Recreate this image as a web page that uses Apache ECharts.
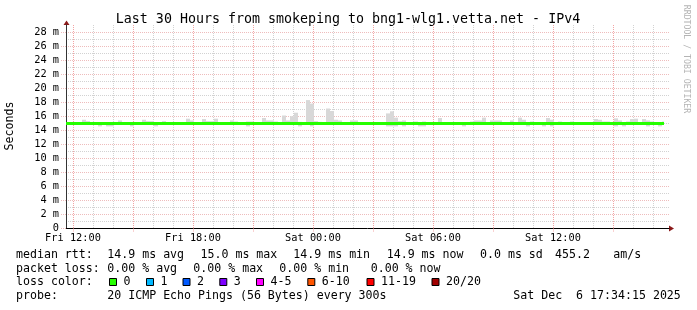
<!DOCTYPE html>
<html><head><meta charset="utf-8">
<script src="https://cdn.jsdelivr.net/npm/echarts@6/dist/echarts.min.js"></script>
<style>html,body{margin:0;padding:0;background:#fff}#c{width:697px;height:310px}</style>
</head><body><div id="c"></div>
<script>
// ---------------- data ----------------
const titleText = 'Last 30 Hours from smokeping to bng1-wlg1.vetta.net - IPv4';
const yAxisName = 'Seconds';
const watermark = 'RRDTOOL / TOBI OETIKER';
const startHour = 11.65;      // Fri 11:39 (hours since Fri 00:00)
const endHour = 41.8;         // right end of axis
const dataEndHour = 41.55;    // last sample (Sat 17:34)
const binHours = 0.2;         // 12-minute smoke bins
const smokeMax = [
15.1,15.05,15.05,15.05,15.5,15.3,15.05,15.05,15.1,15.05,
15.05,15.05,15.1,15.4,15.1,15.05,15.05,15.05,15.1,15.5,
15.3,15.3,15.05,15.05,15.3,15.1,15.05,15.05,15.05,15.1,
15.65,15.4,15.1,15.05,15.6,15.3,15.3,15.65,15.1,15.05,
15.1,15.4,15.25,15.05,15.05,15.25,15.25,15.05,15.1,15.75,
15.4,15.4,15.25,15.1,16.1,15.4,16.0,16.5,15.2,15.1,
18.3,17.8,15.3,15.2,15.05,17.1,16.75,15.5,15.4,15.1,
15.05,15.4,15.4,15.1,15.05,15.1,15.05,15.05,15.1,15.05,
16.4,16.7,15.8,15.3,15.4,15.05,15.05,15.25,15.05,15.25,
15.1,15.05,15.05,15.75,15.1,15.05,15.05,15.1,15.05,15.05,
15.1,15.25,15.4,15.4,15.8,15.1,15.4,15.4,15.4,15.05,
15.05,15.4,15.1,15.8,15.5,15.05,15.25,15.05,15.05,15.1,
15.75,15.5,15.1,15.25,15.05,15.05,15.25,15.05,15.05,15.1,
15.05,15.05,15.6,15.5,15.25,15.25,15.05,15.7,15.4,15.1,
15.25,15.6,15.65,15.1,15.6,15.4,15.25,15.05,15.1,15.25
];
const smokeMin = [
14.8,14.8,14.8,14.8,14.8,14.8,14.8,14.8,14.55,14.8,
14.55,14.55,14.8,14.8,14.8,14.8,14.55,14.8,14.8,14.8,
14.8,14.8,14.55,14.8,14.8,14.8,14.8,14.8,14.8,14.8,
14.8,14.8,14.8,14.8,14.8,14.8,14.8,14.8,14.8,14.8,
14.8,14.8,14.8,14.8,14.8,14.55,14.8,14.8,14.8,14.8,
14.8,14.8,14.8,14.8,14.8,14.8,14.8,14.8,14.55,14.8,
14.8,14.55,14.8,14.8,14.8,14.8,14.8,14.8,14.8,14.8,
14.8,14.8,14.8,14.8,14.8,14.8,14.8,14.8,14.8,14.8,
14.55,14.55,14.55,14.8,14.55,14.8,14.8,14.8,14.55,14.55,
14.8,14.8,14.8,14.8,14.8,14.8,14.8,14.8,14.8,14.55,
14.8,14.8,14.8,14.8,14.8,14.8,14.8,14.8,14.8,14.8,
14.8,14.8,14.8,14.8,14.8,14.55,14.8,14.8,14.8,14.55,
14.8,14.55,14.8,14.8,14.8,14.8,14.8,14.8,14.8,14.8,
14.8,14.8,14.8,14.8,14.8,14.8,14.8,14.55,14.8,14.55,
14.8,14.8,14.8,14.8,14.8,14.55,14.8,14.8,14.55,14.8
];
const medianHours = [11.65, 41.55];
const medianValues = [14.97, 14.97];
const xMinorHours = [12,13,14,15,16,17,18,19,20,21,22,23,24,25,26,27,28,29,30,31,32,33,34,35,36,37,38,39,40,41];
const xMajorHours = [12,15,18,21,24,27,30,33,36,39];
const xLabelHours = [12,18,24,30,36];
const xLabelTexts = ['Fri 12:00','Fri 18:00','Sat 00:00','Sat 06:00','Sat 12:00'];
const yMinorTicks = [0,1,2,3,4,5,6,7,8,9,10,11,12,13,14,15,16,17,18,19,20,21,22,23,24,25,26,27,28];
const yMajorTicks = [0,2,4,6,8,10,12,14,16,18,20,22,24,26,28];
const rttLabel = 'median rtt:';
const rttItems = ['14.9 ms avg','15.0 ms max','14.9 ms min','14.9 ms now','0.0 ms sd','455.2','am/s'];
const lossLabel = 'packet loss:';
const lossItems = ['0.00 % avg','0.00 % max','0.00 % min','0.00 % now'];
const lossColorLabel = 'loss color:';
const lossNames = ['0','1','2','3','4-5','6-10','11-19','20/20'];
const lossColors = ['#26ff00','#00b8ff','#0059ff','#7e00ff','#ff00ff','#ff5500','#ff0000','#a10000'];
const probeLabel = 'probe:';
const probeText = '20 ICMP Echo Pings (56 Bytes) every 300s';
const dateText = 'Sat Dec  6 17:34:15 2025';

// ---------------- layout ----------------
const FONT = '"DejaVu Sans Mono", monospace';
const LEG = '11.6px ' + FONT;
const G = {left: 66, top: 25, width: 603, height: 203.5};
const rttX = [107.3, 200.5, 293.3, 386.7, 480, 555, 613.3];
const lossX = [107.3, 193.3, 279.3, 370.7];
const boxX = [109, 146, 182.5, 219.3, 256, 307.3, 366.5, 431.5];
const rowY = [254.5, 268.5, 281.5, 296];
const minorGrid = {color: '#d2d2d2', width: 1, type: [1, 1]};
const majorGridV = {color: '#f4a3a3', width: 1, type: [1, 1]};
const majorGridH = {color: '#eebcbc', width: 1, type: [1, 1]};

const chart = echarts.init(document.getElementById('c'), null, {renderer: 'canvas'});

const smokeData = smokeMax.map((hi, i) => [
  startHour + i * binHours,
  Math.min(startHour + (i + 1) * binHours, dataEndHour),
  smokeMin[i], hi
]);
const medianData = medianHours.map((h, i) => [h, medianValues[i]]);

function txt(text, x, y) {
  return {type: 'text', x: x, y: y, silent: true,
    style: {text: text, font: LEG, fill: '#000', textAlign: 'left', textVerticalAlign: 'middle'}};
}

const graphics = [];
graphics.push({type: 'text', x: 348, y: 19.5, style: {text: titleText, font: '13.3px ' + FONT, fill: '#000', textAlign: 'center', textVerticalAlign: 'middle'}});
graphics.push({type: 'text', x: 10, y: 126, rotation: Math.PI / 2, style: {text: yAxisName, font: LEG, fill: '#000', textAlign: 'center', textVerticalAlign: 'middle'}});
graphics.push({type: 'text', x: 686, y: 59, rotation: -Math.PI / 2, style: {text: watermark, font: '8.2px ' + FONT, fill: '#b4b4b4', textAlign: 'center', textVerticalAlign: 'middle'}});
graphics.push(txt(rttLabel, 16, rowY[0]));
rttItems.forEach((t, i) => graphics.push(txt(t, rttX[i], rowY[0])));
graphics.push(txt(lossLabel, 16, rowY[1]));
lossItems.forEach((t, i) => graphics.push(txt(t, lossX[i], rowY[1])));
graphics.push(txt(lossColorLabel, 16, rowY[2]));
lossNames.forEach((t, i) => {
  graphics.push({type: 'rect', shape: {x: boxX[i] + 0.5, y: Math.round(rowY[2]) - 3.5, width: 7, height: 7},
    style: {fill: lossColors[i], stroke: '#000', lineWidth: 1}});
  graphics.push(txt(t, boxX[i] + 14.5, rowY[2]));
});
graphics.push(txt(probeLabel, 16, rowY[3]));
graphics.push(txt(probeText, 107.3, rowY[3]));
graphics.push(txt(dateText, 513.3, rowY[3]));
// axis arrows
const axR = G.left + G.width, axB = G.top + G.height;
graphics.push({type: 'polygon', shape: {points: [[axR, axB - 3], [axR, axB + 3], [axR + 5, axB]]}, style: {fill: '#8b1a1a'}});
graphics.push({type: 'polygon', shape: {points: [[G.left + 0.5 - 3, G.top], [G.left + 0.5 + 3, G.top], [G.left + 0.5, G.top - 4.5]]}, style: {fill: '#8b1a1a'}});

const labelStyle = {fontFamily: FONT, fontSize: 10.3, color: '#000'};

chart.setOption({
  animation: false,
  backgroundColor: '#fff',
  grid: Object.assign({outerBoundsMode: 'none', containLabel: false}, G),
  xAxis: [
    {type: 'value', min: startHour, max: endHour, position: 'bottom',
     axisLine: {show: false}, axisTick: {show: false, customValues: xMinorHours},
     axisLabel: {show: false}, splitLine: {show: true, lineStyle: minorGrid}},
    {type: 'value', min: startHour, max: endHour, position: 'bottom',
     axisLine: {show: true, lineStyle: {color: '#000', width: 1}},
     axisTick: {show: true, customValues: xMajorHours, length: 3, lineStyle: majorGridV},
     axisLabel: Object.assign({show: true, customValues: xLabelHours, margin: 5,
       formatter: v => xLabelTexts[xLabelHours.indexOf(v)] || ''}, labelStyle),
     splitLine: {show: true, lineStyle: majorGridV}}
  ],
  yAxis: [
    {type: 'value', min: 0, max: 29, position: 'left',
     axisLine: {show: false}, axisTick: {show: false, customValues: yMinorTicks},
     axisLabel: {show: false}, splitLine: {show: true, lineStyle: minorGrid}},
    {type: 'value', min: 0, max: 29, position: 'left',
     axisLine: {show: true, lineStyle: {color: '#333', width: 1}},
     axisTick: {show: true, customValues: yMajorTicks, length: 5, lineStyle: majorGridH},
     axisLabel: Object.assign({show: true, customValues: yMajorTicks, margin: 7,
       formatter: v => v === 0 ? '0' : v + ' m'}, labelStyle),
     splitLine: {show: true, lineStyle: majorGridH}}
  ],
  series: [
    {type: 'custom', xAxisIndex: 1, yAxisIndex: 1, data: smokeData,
     encode: {x: [0, 1], y: [2, 3]}, silent: true, z: 3,
     renderItem: function (params, api) {
       const p0 = api.coord([api.value(0), api.value(3)]);
       const p1 = api.coord([api.value(1), api.value(2)]);
       const x0 = Math.round(p0[0]), x1 = Math.round(p1[0]);
       return {type: 'rect', shape: {x: x0, y: p0[1], width: x1 - x0, height: p1[1] - p0[1]},
         style: {fill: '#d8d8d8'}};
     }},
    {type: 'line', xAxisIndex: 1, yAxisIndex: 1, data: medianData, symbol: 'none', z: 4,
     lineStyle: {color: '#26ff00', width: 3}, silent: true}
  ],
  graphic: graphics
});
</script></body></html>
